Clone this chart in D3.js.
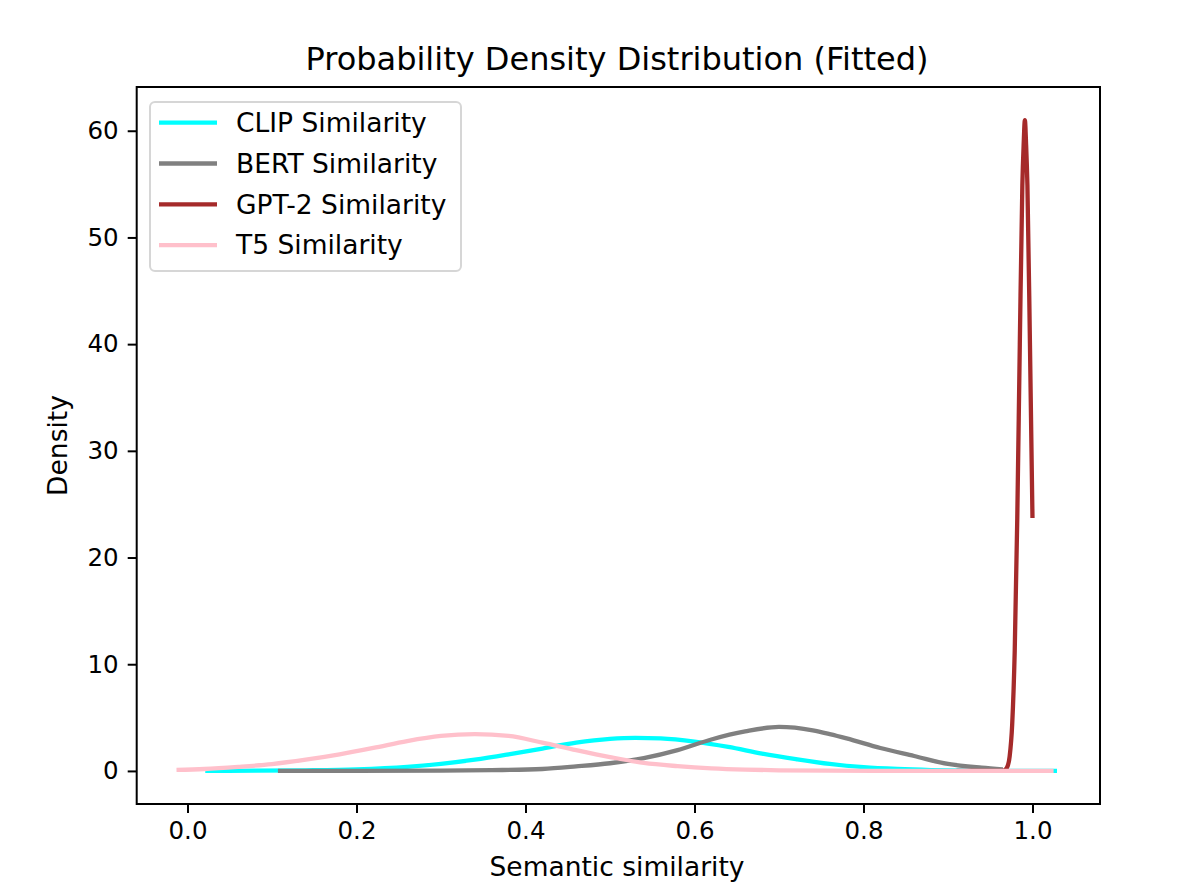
<!DOCTYPE html>
<html>
<head>
<meta charset="utf-8">
<script src="https://cdn.jsdelivr.net/npm/d3@7"></script>
<style>
  body { margin: 0; background: #fff; }
  text { font-family: "DejaVu Sans", sans-serif; fill: #000; }
</style>
</head>
<body>
<script>
// x ticks / y ticks
const xTicks = [0.0, 0.2, 0.4, 0.6, 0.8, 1.0];
const yTicks = [0, 10, 20, 30, 40, 50, 60];

const seriesNames = ['CLIP Similarity', 'BERT Similarity', 'GPT-2 Similarity', 'T5 Similarity'];
const seriesColors = ['#00ffff', '#808080', '#a52a2a', '#ffc0cb'];

// fitted densities: [similarity, density]
const clipPoints = [
  [0.021, 0.0], [0.08, 0.02], [0.14, 0.06], [0.20, 0.15], [0.26, 0.38], [0.30, 0.66],
  [0.34, 1.05], [0.38, 1.55], [0.42, 2.10], [0.46, 2.65], [0.50, 3.00], [0.53, 3.10],
  [0.56, 3.05], [0.60, 2.75], [0.64, 2.25], [0.68, 1.62], [0.72, 1.10], [0.76, 0.65],
  [0.80, 0.35], [0.84, 0.18], [0.88, 0.08], [0.92, 0.03], [0.97, 0.01], [1.029, 0.0]
];
const bertPoints = [
  [0.107, 0.0], [0.20, 0.0], [0.30, 0.02], [0.36, 0.07], [0.42, 0.18], [0.46, 0.42],
  [0.50, 0.72], [0.54, 1.20], [0.58, 1.95], [0.62, 2.95], [0.66, 3.70], [0.70, 4.12],
  [0.74, 3.80], [0.76, 3.45], [0.78, 3.05], [0.82, 2.15], [0.86, 1.40], [0.90, 0.65],
  [0.94, 0.30], [0.965, 0.15]
];
const gptPoints = [
  [0.91, 0.0], [0.95, 0.0], [0.962, 0.01], [0.966, 0.04], [0.970, 0.35], [0.973, 1.38],
  [0.976, 4.39], [0.979, 11.3], [0.982, 23.7], [0.985, 40.0], [0.988, 54.9], [0.9895, 58.6],
  [0.991, 61.0], [0.9925, 58.6], [0.994, 54.9], [0.997, 40.0], [1.000, 23.7]
];
const t5Points = [
  [-0.013, 0.10], [0.02, 0.18], [0.06, 0.38], [0.10, 0.64], [0.14, 1.05], [0.18, 1.55],
  [0.22, 2.15], [0.26, 2.80], [0.30, 3.28], [0.34, 3.45], [0.38, 3.28], [0.42, 2.65],
  [0.46, 1.95], [0.50, 1.30], [0.54, 0.75], [0.58, 0.45], [0.62, 0.24], [0.66, 0.12],
  [0.70, 0.06], [0.76, 0.02], [0.85, 0.0], [0.95, 0.0], [1.025, 0.0]
];

const allSeries = [clipPoints, bertPoints, gptPoints, t5Points];

const svgWidth = 1196;
const svgHeight = 885;
const plot = { left: 136.7, right: 1100, top: 87, bottom: 804 };

const svg = d3.select('body')
    .append('svg')
    .attr('width', svgWidth)
    .attr('height', svgHeight);

svg.append('rect')
    .attr('width', svgWidth)
    .attr('height', svgHeight)
    .attr('fill', '#fff');

const xScale = d3.scaleLinear()
    .domain([-0.0601, 1.0799])
    .range([plot.left, plot.right]);

const yScale = d3.scaleLinear()
    .domain([-3.1, 64.1])
    .range([plot.bottom, plot.top]);

svg.append('clipPath')
    .attr('id', 'plot-clip')
    .append('rect')
    .attr('x', plot.left)
    .attr('y', plot.top)
    .attr('width', plot.right - plot.left)
    .attr('height', plot.bottom - plot.top);

// curves
const line = d3.line()
    .x(d => xScale(d[0]))
    .y(d => yScale(d[1]))
    .curve(d3.curveMonotoneX);

svg.append('g')
    .attr('clip-path', 'url(#plot-clip)')
    .selectAll('path')
    .data(allSeries)
    .enter()
    .append('path')
    .attr('d', line)
    .attr('fill', 'none')
    .attr('stroke', (d, i) => seriesColors[i])
    .attr('stroke-width', 4.3)
    .attr('stroke-linejoin', 'round');

// X-axis
const xAxis = svg.append('g')
    .attr('transform', `translate(0,${plot.bottom})`)
    .call(d3.axisBottom(xScale).tickValues(xTicks).tickFormat(d3.format('.1f')).tickSize(9).tickPadding(9));

// Y-axis
const yAxis = svg.append('g')
    .attr('transform', `translate(${plot.left},0)`)
    .call(d3.axisLeft(yScale).tickValues(yTicks).tickSize(9).tickPadding(9));

[xAxis, yAxis].forEach(g => {
    g.select('.domain').remove();
    g.selectAll('line').attr('stroke', '#000').attr('stroke-width', 2);
    g.selectAll('text')
        .style('font-family', '"DejaVu Sans", sans-serif')
        .style('font-size', '24.5px')
        .attr('fill', '#000');
});

// frame
svg.append('rect')
    .attr('x', plot.left)
    .attr('y', plot.top)
    .attr('width', plot.right - plot.left)
    .attr('height', plot.bottom - plot.top)
    .attr('fill', 'none')
    .attr('stroke', '#000')
    .attr('stroke-width', 2);

// labels
svg.append('text')
    .attr('x', 617)
    .attr('y', 876)
    .style('text-anchor', 'middle')
    .style('font-size', '26.5px')
    .text('Semantic similarity');

svg.append('text')
    .attr('transform', `translate(67,${(plot.top + plot.bottom) / 2}) rotate(-90)`)
    .style('text-anchor', 'middle')
    .style('font-size', '26.5px')
    .text('Density');

svg.append('text')
    .attr('x', 617)
    .attr('y', 70)
    .style('text-anchor', 'middle')
    .style('font-size', '32px')
    .text('Probability Density Distribution (Fitted)');

// legend
const legend = svg.append('g');

legend.append('rect')
    .attr('x', 150)
    .attr('y', 102)
    .attr('width', 311)
    .attr('height', 169)
    .attr('rx', 5)
    .attr('fill', '#fff')
    .attr('fill-opacity', 0.8)
    .attr('stroke', '#d6d6d6')
    .attr('stroke-width', 2);

const rows = legend.selectAll('.row')
    .data(seriesNames)
    .enter()
    .append('g')
    .attr('class', 'row')
    .attr('transform', (d, i) => `translate(0,${122.7 + i * 40.8})`);

rows.append('line')
    .attr('x1', 159)
    .attr('x2', 217)
    .attr('stroke', (d, i) => seriesColors[i])
    .attr('stroke-width', 4.3);

rows.append('text')
    .attr('x', 236)
    .attr('dy', '0.35em')
    .style('font-size', '26.5px')
    .text(d => d);
</script>
</body>
</html>
